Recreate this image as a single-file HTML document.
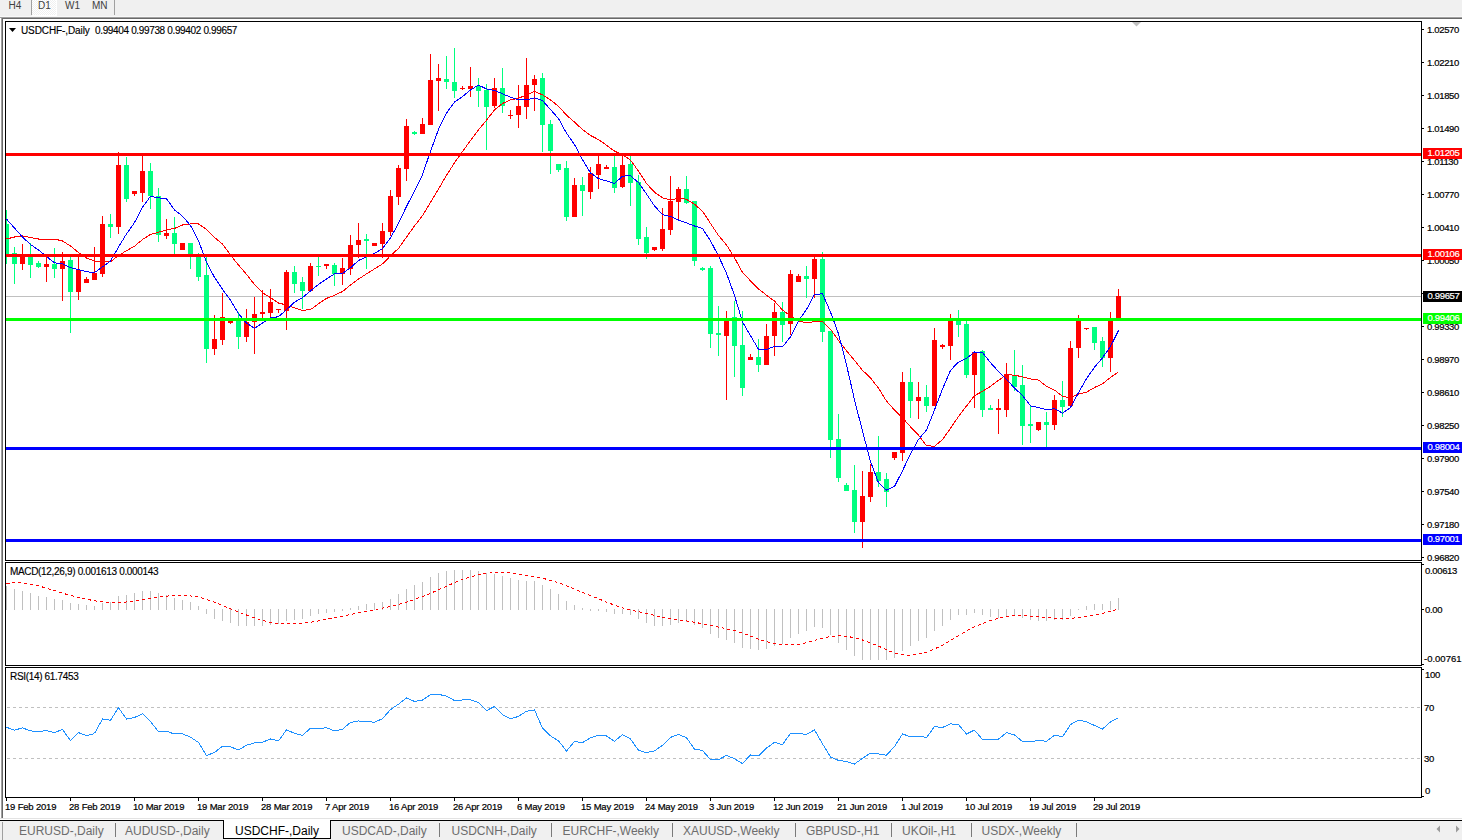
<!DOCTYPE html>
<html><head><meta charset="utf-8"><style>
html,body{margin:0;padding:0;}
body{width:1462px;height:840px;position:relative;overflow:hidden;background:#fff;font-family:"Liberation Sans",sans-serif;}
svg{position:absolute;left:0;top:0;}
.ax{position:absolute;font-size:9.5px;line-height:10px;color:#000;white-space:nowrap;letter-spacing:-0.34px;-webkit-text-stroke:0.2px #000;}
.dt{position:absolute;font-size:9.5px;line-height:10px;color:#000;white-space:nowrap;letter-spacing:-0.19px;-webkit-text-stroke:0.2px #000;}
.box{position:absolute;left:1423px;width:40px;height:11px;font-size:9.5px;line-height:9px;padding-left:4.5px;box-sizing:border-box;white-space:nowrap;letter-spacing:-0.34px;-webkit-text-stroke:0.2px currentColor;}
#tb{position:absolute;left:0;top:0;width:1462px;height:17px;background:#F0F0F0;}
#tb .t{position:absolute;top:0.5px;font-size:10px;line-height:10px;color:#404040;white-space:nowrap;}
#tb .sep{position:absolute;top:0;width:1px;height:15px;background:#A0A0A0;}
#d1{position:absolute;left:32px;top:0;width:25px;height:16px;background:#fff;}
#d1b{position:absolute;left:32px;top:0;width:24px;height:15px;background-color:#F0F0F0;background-image:repeating-conic-gradient(#fff 0 25%, #F0F0F0 0 50%);background-size:2px 2px;}
#tl1{position:absolute;left:0;top:17px;width:1462px;height:1px;background:#A0A0A0;}
#tl2{position:absolute;left:2px;top:18px;width:1462px;height:1px;background:#696969;}
#tl0{position:absolute;left:0;top:16px;width:1462px;height:1px;background:#F8F8F8;}
#lb{position:absolute;left:1px;top:18px;width:1px;height:800px;background:#A0A0A0;}
#lbb{position:absolute;left:2px;top:18px;width:1px;height:800px;background:#696969;}
#lb2{position:absolute;left:2px;top:822px;width:1px;height:18px;background:#A0A0A0;}
#bl{position:absolute;left:0;top:818px;width:1462px;height:1px;background:#E3E3E3;}
#tabs{position:absolute;left:0;top:820px;width:1462px;height:20px;background:#F0F0F0;border-top:1px solid #000;box-sizing:border-box;}
#tabs2{position:absolute;left:0;top:821px;width:1462px;height:1px;background:#fff;}
.tab{position:absolute;top:3px;font-size:12px;line-height:14px;color:#6D6D6D;white-space:nowrap;}
.tsep{position:absolute;top:2px;width:1px;height:14px;background:#7a7a7a;}
#act{position:absolute;left:223px;top:-1px;width:108px;height:19px;background:#fff;border:1px solid #000;border-top:none;box-sizing:border-box;}
.title{position:absolute;font-size:10px;line-height:10px;color:#000;white-space:nowrap;letter-spacing:-0.33px;-webkit-text-stroke:0.15px #000;}
.arr{position:absolute;top:826px;width:0;height:0;border-top:4px solid transparent;border-bottom:4px solid transparent;}
</style></head><body>
<div id="tb">
<div id="d1"></div><div id="d1b"></div>
<div class="sep" style="left:31px"></div>
<div class="sep" style="left:114px"></div>
<div class="t" style="left:8.5px">H4</div>
<div class="t" style="left:38px">D1</div>
<div class="t" style="left:65px">W1</div>
<div class="t" style="left:92px">MN</div>
</div>
<div id="tl0"></div><div id="tl1"></div><div id="tl2"></div>
<div id="lb"></div><div id="lbb"></div>
<svg x="0" y="0" width="1462" height="840"><clipPath id="mc"><rect x="6" y="22" width="1415" height="538"/></clipPath><g clip-path="url(#mc)" shape-rendering="crispEdges"><rect x="5" y="296" width="1416" height="1" fill="#C0C0C0"/><rect x="6" y="210" width="1" height="54" fill="#00FF7F"/><rect x="4" y="224" width="5" height="31" fill="#00FF7F"/><rect x="14" y="247" width="1" height="37" fill="#00FF7F"/><rect x="12" y="253" width="5" height="11" fill="#00FF7F"/><rect x="22" y="244" width="1" height="26" fill="#FF0000"/><rect x="20" y="256" width="5" height="8" fill="#FF0000"/><rect x="30" y="243" width="1" height="35" fill="#00FF7F"/><rect x="28" y="257" width="5" height="8" fill="#00FF7F"/><rect x="38" y="261" width="1" height="7" fill="#00FF7F"/><rect x="36" y="263" width="5" height="4" fill="#00FF7F"/><rect x="46" y="256" width="1" height="26" fill="#FF0000"/><rect x="44" y="264" width="5" height="3" fill="#FF0000"/><rect x="54" y="248" width="1" height="30" fill="#00FF7F"/><rect x="52" y="264" width="5" height="5" fill="#00FF7F"/><rect x="62" y="252" width="1" height="49" fill="#FF0000"/><rect x="60" y="261" width="5" height="8" fill="#FF0000"/><rect x="70" y="257" width="1" height="76" fill="#00FF7F"/><rect x="68" y="260" width="5" height="32" fill="#00FF7F"/><rect x="78" y="254" width="1" height="46" fill="#FF0000"/><rect x="76" y="270" width="5" height="22" fill="#FF0000"/><rect x="86" y="277" width="1" height="6" fill="#FF0000"/><rect x="84" y="279" width="5" height="4" fill="#FF0000"/><rect x="94" y="247" width="1" height="33" fill="#FF0000"/><rect x="92" y="273" width="5" height="7" fill="#FF0000"/><rect x="102" y="216" width="1" height="61" fill="#FF0000"/><rect x="100" y="224" width="5" height="50" fill="#FF0000"/><rect x="110" y="214" width="1" height="24" fill="#00FF7F"/><rect x="108" y="224" width="5" height="3" fill="#00FF7F"/><rect x="118" y="152" width="1" height="82" fill="#FF0000"/><rect x="116" y="165" width="5" height="62" fill="#FF0000"/><rect x="126" y="157" width="1" height="45" fill="#00FF7F"/><rect x="124" y="165" width="5" height="34" fill="#00FF7F"/><rect x="134" y="191" width="1" height="5" fill="#FF0000"/><rect x="132" y="191" width="5" height="3" fill="#FF0000"/><rect x="142" y="156" width="1" height="46" fill="#FF0000"/><rect x="140" y="171" width="5" height="22" fill="#FF0000"/><rect x="150" y="163" width="1" height="46" fill="#00FF7F"/><rect x="148" y="171" width="5" height="25" fill="#00FF7F"/><rect x="158" y="188" width="1" height="54" fill="#00FF7F"/><rect x="156" y="196" width="5" height="39" fill="#00FF7F"/><rect x="166" y="219" width="1" height="20" fill="#FF0000"/><rect x="164" y="233" width="5" height="3" fill="#FF0000"/><rect x="174" y="217" width="1" height="37" fill="#00FF7F"/><rect x="172" y="233" width="5" height="11" fill="#00FF7F"/><rect x="182" y="243" width="1" height="7" fill="#FF0000"/><rect x="180" y="243" width="5" height="7" fill="#FF0000"/><rect x="190" y="243" width="1" height="26" fill="#00FF7F"/><rect x="188" y="243" width="5" height="13" fill="#00FF7F"/><rect x="198" y="253" width="1" height="28" fill="#00FF7F"/><rect x="196" y="257" width="5" height="20" fill="#00FF7F"/><rect x="206" y="257" width="1" height="106" fill="#00FF7F"/><rect x="204" y="275" width="5" height="74" fill="#00FF7F"/><rect x="214" y="315" width="1" height="40" fill="#FF0000"/><rect x="212" y="339" width="5" height="10" fill="#FF0000"/><rect x="222" y="293" width="1" height="52" fill="#FF0000"/><rect x="220" y="317" width="5" height="23" fill="#FF0000"/><rect x="230" y="321" width="1" height="3" fill="#FF0000"/><rect x="228" y="321" width="5" height="2" fill="#FF0000"/><rect x="238" y="312" width="1" height="37" fill="#00FF7F"/><rect x="236" y="319" width="5" height="18" fill="#00FF7F"/><rect x="246" y="309" width="1" height="33" fill="#FF0000"/><rect x="244" y="322" width="5" height="15" fill="#FF0000"/><rect x="254" y="297" width="1" height="57" fill="#FF0000"/><rect x="252" y="314" width="5" height="8" fill="#FF0000"/><rect x="262" y="290" width="1" height="28" fill="#FF0000"/><rect x="260" y="312" width="5" height="2" fill="#FF0000"/><rect x="270" y="289" width="1" height="28" fill="#FF0000"/><rect x="268" y="302" width="5" height="11" fill="#FF0000"/><rect x="278" y="309" width="1" height="4" fill="#FF0000"/><rect x="276" y="309" width="5" height="1" fill="#FF0000"/><rect x="286" y="270" width="1" height="60" fill="#FF0000"/><rect x="284" y="272" width="5" height="39" fill="#FF0000"/><rect x="294" y="266" width="1" height="27" fill="#00FF7F"/><rect x="292" y="272" width="5" height="12" fill="#00FF7F"/><rect x="302" y="277" width="1" height="32" fill="#00FF7F"/><rect x="300" y="282" width="5" height="9" fill="#00FF7F"/><rect x="310" y="263" width="1" height="28" fill="#FF0000"/><rect x="308" y="266" width="5" height="25" fill="#FF0000"/><rect x="318" y="257" width="1" height="19" fill="#00FF7F"/><rect x="316" y="266" width="5" height="1" fill="#00FF7F"/><rect x="326" y="264" width="1" height="5" fill="#FF0000"/><rect x="324" y="264" width="5" height="2" fill="#FF0000"/><rect x="334" y="263" width="1" height="23" fill="#00FF7F"/><rect x="332" y="265" width="5" height="9" fill="#00FF7F"/><rect x="342" y="258" width="1" height="27" fill="#FF0000"/><rect x="340" y="268" width="5" height="6" fill="#FF0000"/><rect x="350" y="235" width="1" height="40" fill="#FF0000"/><rect x="348" y="245" width="5" height="24" fill="#FF0000"/><rect x="358" y="223" width="1" height="35" fill="#FF0000"/><rect x="356" y="240" width="5" height="5" fill="#FF0000"/><rect x="366" y="234" width="1" height="35" fill="#00FF7F"/><rect x="364" y="239" width="5" height="2" fill="#00FF7F"/><rect x="374" y="243" width="1" height="3" fill="#FF0000"/><rect x="372" y="243" width="5" height="3" fill="#FF0000"/><rect x="382" y="223" width="1" height="35" fill="#FF0000"/><rect x="380" y="231" width="5" height="13" fill="#FF0000"/><rect x="390" y="190" width="1" height="46" fill="#FF0000"/><rect x="388" y="196" width="5" height="36" fill="#FF0000"/><rect x="398" y="165" width="1" height="40" fill="#FF0000"/><rect x="396" y="168" width="5" height="29" fill="#FF0000"/><rect x="406" y="119" width="1" height="62" fill="#FF0000"/><rect x="404" y="126" width="5" height="43" fill="#FF0000"/><rect x="414" y="131" width="1" height="4" fill="#00FF7F"/><rect x="412" y="132" width="5" height="2" fill="#00FF7F"/><rect x="422" y="118" width="1" height="16" fill="#FF0000"/><rect x="420" y="124" width="5" height="10" fill="#FF0000"/><rect x="430" y="54" width="1" height="71" fill="#FF0000"/><rect x="428" y="80" width="5" height="45" fill="#FF0000"/><rect x="438" y="64" width="1" height="47" fill="#FF0000"/><rect x="436" y="78" width="5" height="3" fill="#FF0000"/><rect x="446" y="56" width="1" height="33" fill="#00FF7F"/><rect x="444" y="79" width="5" height="3" fill="#00FF7F"/><rect x="454" y="48" width="1" height="50" fill="#00FF7F"/><rect x="452" y="82" width="5" height="9" fill="#00FF7F"/><rect x="462" y="86" width="1" height="4" fill="#FF0000"/><rect x="460" y="88" width="5" height="1" fill="#FF0000"/><rect x="470" y="67" width="1" height="30" fill="#FF0000"/><rect x="468" y="86" width="5" height="3" fill="#FF0000"/><rect x="478" y="78" width="1" height="29" fill="#00FF7F"/><rect x="476" y="86" width="5" height="5" fill="#00FF7F"/><rect x="486" y="84" width="1" height="66" fill="#00FF7F"/><rect x="484" y="90" width="5" height="17" fill="#00FF7F"/><rect x="494" y="78" width="1" height="30" fill="#FF0000"/><rect x="492" y="88" width="5" height="18" fill="#FF0000"/><rect x="502" y="68" width="1" height="45" fill="#00FF7F"/><rect x="500" y="88" width="5" height="18" fill="#00FF7F"/><rect x="510" y="110" width="1" height="9" fill="#FF0000"/><rect x="508" y="115" width="5" height="1" fill="#FF0000"/><rect x="518" y="85" width="1" height="43" fill="#FF0000"/><rect x="516" y="106" width="5" height="9" fill="#FF0000"/><rect x="526" y="58" width="1" height="61" fill="#FF0000"/><rect x="524" y="85" width="5" height="22" fill="#FF0000"/><rect x="534" y="75" width="1" height="36" fill="#FF0000"/><rect x="532" y="79" width="5" height="6" fill="#FF0000"/><rect x="542" y="73" width="1" height="79" fill="#00FF7F"/><rect x="540" y="78" width="5" height="47" fill="#00FF7F"/><rect x="550" y="120" width="1" height="54" fill="#00FF7F"/><rect x="548" y="124" width="5" height="27" fill="#00FF7F"/><rect x="558" y="164" width="1" height="8" fill="#00FF7F"/><rect x="556" y="164" width="5" height="6" fill="#00FF7F"/><rect x="566" y="161" width="1" height="60" fill="#00FF7F"/><rect x="564" y="168" width="5" height="49" fill="#00FF7F"/><rect x="574" y="178" width="1" height="39" fill="#FF0000"/><rect x="572" y="185" width="5" height="32" fill="#FF0000"/><rect x="582" y="177" width="1" height="39" fill="#00FF7F"/><rect x="580" y="185" width="5" height="6" fill="#00FF7F"/><rect x="590" y="167" width="1" height="32" fill="#FF0000"/><rect x="588" y="173" width="5" height="19" fill="#FF0000"/><rect x="598" y="156" width="1" height="33" fill="#FF0000"/><rect x="596" y="164" width="5" height="11" fill="#FF0000"/><rect x="606" y="165" width="1" height="4" fill="#FF0000"/><rect x="604" y="167" width="5" height="2" fill="#FF0000"/><rect x="614" y="156" width="1" height="37" fill="#00FF7F"/><rect x="612" y="167" width="5" height="21" fill="#00FF7F"/><rect x="622" y="154" width="1" height="34" fill="#FF0000"/><rect x="620" y="165" width="5" height="22" fill="#FF0000"/><rect x="630" y="156" width="1" height="50" fill="#00FF7F"/><rect x="628" y="164" width="5" height="19" fill="#00FF7F"/><rect x="638" y="175" width="1" height="70" fill="#00FF7F"/><rect x="636" y="182" width="5" height="57" fill="#00FF7F"/><rect x="646" y="227" width="1" height="32" fill="#00FF7F"/><rect x="644" y="237" width="5" height="16" fill="#00FF7F"/><rect x="654" y="247" width="1" height="4" fill="#FF0000"/><rect x="652" y="247" width="5" height="3" fill="#FF0000"/><rect x="662" y="208" width="1" height="43" fill="#FF0000"/><rect x="660" y="229" width="5" height="20" fill="#FF0000"/><rect x="670" y="176" width="1" height="59" fill="#FF0000"/><rect x="668" y="201" width="5" height="29" fill="#FF0000"/><rect x="678" y="187" width="1" height="33" fill="#FF0000"/><rect x="676" y="189" width="5" height="13" fill="#FF0000"/><rect x="686" y="176" width="1" height="28" fill="#00FF7F"/><rect x="684" y="189" width="5" height="14" fill="#00FF7F"/><rect x="694" y="201" width="1" height="65" fill="#00FF7F"/><rect x="692" y="201" width="5" height="60" fill="#00FF7F"/><rect x="702" y="267" width="1" height="4" fill="#00FF7F"/><rect x="700" y="268" width="5" height="2" fill="#00FF7F"/><rect x="710" y="266" width="1" height="82" fill="#00FF7F"/><rect x="708" y="268" width="5" height="66" fill="#00FF7F"/><rect x="718" y="306" width="1" height="50" fill="#00FF7F"/><rect x="716" y="333" width="5" height="2" fill="#00FF7F"/><rect x="726" y="311" width="1" height="89" fill="#FF0000"/><rect x="724" y="321" width="5" height="15" fill="#FF0000"/><rect x="734" y="301" width="1" height="76" fill="#00FF7F"/><rect x="732" y="317" width="5" height="29" fill="#00FF7F"/><rect x="742" y="311" width="1" height="85" fill="#00FF7F"/><rect x="740" y="345" width="5" height="43" fill="#00FF7F"/><rect x="750" y="354" width="1" height="6" fill="#FF0000"/><rect x="748" y="357" width="5" height="3" fill="#FF0000"/><rect x="758" y="339" width="1" height="33" fill="#00FF7F"/><rect x="756" y="357" width="5" height="8" fill="#00FF7F"/><rect x="766" y="324" width="1" height="41" fill="#FF0000"/><rect x="764" y="336" width="5" height="29" fill="#FF0000"/><rect x="774" y="303" width="1" height="53" fill="#FF0000"/><rect x="772" y="312" width="5" height="24" fill="#FF0000"/><rect x="782" y="302" width="1" height="40" fill="#00FF7F"/><rect x="780" y="312" width="5" height="13" fill="#00FF7F"/><rect x="790" y="270" width="1" height="65" fill="#FF0000"/><rect x="788" y="274" width="5" height="50" fill="#FF0000"/><rect x="798" y="274" width="1" height="8" fill="#FF0000"/><rect x="796" y="276" width="5" height="6" fill="#FF0000"/><rect x="806" y="266" width="1" height="32" fill="#00FF7F"/><rect x="804" y="276" width="5" height="3" fill="#00FF7F"/><rect x="814" y="256" width="1" height="42" fill="#FF0000"/><rect x="812" y="259" width="5" height="20" fill="#FF0000"/><rect x="822" y="252" width="1" height="90" fill="#00FF7F"/><rect x="820" y="259" width="5" height="73" fill="#00FF7F"/><rect x="830" y="331" width="1" height="127" fill="#00FF7F"/><rect x="828" y="331" width="5" height="109" fill="#00FF7F"/><rect x="838" y="414" width="1" height="68" fill="#00FF7F"/><rect x="836" y="439" width="5" height="39" fill="#00FF7F"/><rect x="846" y="483" width="1" height="8" fill="#00FF7F"/><rect x="844" y="485" width="5" height="6" fill="#00FF7F"/><rect x="854" y="465" width="1" height="68" fill="#00FF7F"/><rect x="852" y="490" width="5" height="32" fill="#00FF7F"/><rect x="862" y="471" width="1" height="77" fill="#FF0000"/><rect x="860" y="496" width="5" height="26" fill="#FF0000"/><rect x="870" y="464" width="1" height="38" fill="#FF0000"/><rect x="868" y="472" width="5" height="25" fill="#FF0000"/><rect x="878" y="436" width="1" height="51" fill="#00FF7F"/><rect x="876" y="472" width="5" height="9" fill="#00FF7F"/><rect x="886" y="473" width="1" height="34" fill="#00FF7F"/><rect x="884" y="479" width="5" height="13" fill="#00FF7F"/><rect x="894" y="452" width="1" height="8" fill="#FF0000"/><rect x="892" y="452" width="5" height="6" fill="#FF0000"/><rect x="902" y="372" width="1" height="89" fill="#FF0000"/><rect x="900" y="382" width="5" height="71" fill="#FF0000"/><rect x="910" y="368" width="1" height="50" fill="#00FF7F"/><rect x="908" y="382" width="5" height="19" fill="#00FF7F"/><rect x="918" y="382" width="1" height="37" fill="#FF0000"/><rect x="916" y="397" width="5" height="4" fill="#FF0000"/><rect x="926" y="385" width="1" height="27" fill="#00FF7F"/><rect x="924" y="397" width="5" height="9" fill="#00FF7F"/><rect x="934" y="328" width="1" height="78" fill="#FF0000"/><rect x="932" y="340" width="5" height="66" fill="#FF0000"/><rect x="942" y="344" width="1" height="5" fill="#FF0000"/><rect x="940" y="345" width="5" height="2" fill="#FF0000"/><rect x="950" y="314" width="1" height="46" fill="#FF0000"/><rect x="948" y="321" width="5" height="25" fill="#FF0000"/><rect x="958" y="310" width="1" height="27" fill="#00FF7F"/><rect x="956" y="321" width="5" height="4" fill="#00FF7F"/><rect x="966" y="321" width="1" height="57" fill="#00FF7F"/><rect x="964" y="324" width="5" height="51" fill="#00FF7F"/><rect x="974" y="351" width="1" height="57" fill="#FF0000"/><rect x="972" y="352" width="5" height="23" fill="#FF0000"/><rect x="982" y="350" width="1" height="67" fill="#00FF7F"/><rect x="980" y="351" width="5" height="59" fill="#00FF7F"/><rect x="990" y="405" width="1" height="5" fill="#00FF7F"/><rect x="988" y="408" width="5" height="2" fill="#00FF7F"/><rect x="998" y="399" width="1" height="35" fill="#FF0000"/><rect x="996" y="408" width="5" height="2" fill="#FF0000"/><rect x="1006" y="363" width="1" height="54" fill="#FF0000"/><rect x="1004" y="374" width="5" height="36" fill="#FF0000"/><rect x="1014" y="350" width="1" height="41" fill="#00FF7F"/><rect x="1012" y="375" width="5" height="12" fill="#00FF7F"/><rect x="1022" y="365" width="1" height="80" fill="#00FF7F"/><rect x="1020" y="385" width="5" height="41" fill="#00FF7F"/><rect x="1030" y="405" width="1" height="38" fill="#00FF7F"/><rect x="1028" y="424" width="5" height="2" fill="#00FF7F"/><rect x="1038" y="422" width="1" height="9" fill="#FF0000"/><rect x="1036" y="422" width="5" height="8" fill="#FF0000"/><rect x="1046" y="412" width="1" height="35" fill="#00FF7F"/><rect x="1044" y="422" width="5" height="3" fill="#00FF7F"/><rect x="1054" y="395" width="1" height="35" fill="#FF0000"/><rect x="1052" y="400" width="5" height="25" fill="#FF0000"/><rect x="1062" y="381" width="1" height="36" fill="#00FF7F"/><rect x="1060" y="400" width="5" height="7" fill="#00FF7F"/><rect x="1070" y="341" width="1" height="67" fill="#FF0000"/><rect x="1068" y="348" width="5" height="58" fill="#FF0000"/><rect x="1078" y="315" width="1" height="43" fill="#FF0000"/><rect x="1076" y="321" width="5" height="27" fill="#FF0000"/><rect x="1086" y="328" width="1" height="2" fill="#FF0000"/><rect x="1084" y="328" width="5" height="1" fill="#FF0000"/><rect x="1094" y="327" width="1" height="23" fill="#00FF7F"/><rect x="1092" y="327" width="5" height="16" fill="#00FF7F"/><rect x="1102" y="337" width="1" height="30" fill="#00FF7F"/><rect x="1100" y="341" width="5" height="17" fill="#00FF7F"/><rect x="1110" y="312" width="1" height="60" fill="#FF0000"/><rect x="1108" y="320" width="5" height="38" fill="#FF0000"/><rect x="1118" y="289" width="1" height="29" fill="#FF0000"/><rect x="1116" y="296" width="5" height="22" fill="#FF0000"/><polyline points="6.5,239.0 14.5,237.0 22.5,236.0 30.5,237.5 38.5,239.0 46.5,239.0 54.5,239.0 62.5,241.0 70.5,246.0 78.5,252.5 86.5,258.0 94.5,261.0 102.5,261.0 110.5,261.9 118.5,255.4 126.5,250.8 134.5,246.2 142.5,239.5 150.5,234.4 158.5,232.3 166.5,229.8 174.5,228.5 182.5,225.0 190.5,224.0 198.5,223.9 206.5,229.3 214.5,237.5 222.5,244.0 230.5,255.1 238.5,265.0 246.5,274.3 254.5,284.5 262.5,292.8 270.5,297.6 278.5,303.0 286.5,305.0 294.5,307.9 302.5,310.4 310.5,309.6 318.5,303.8 326.5,298.4 334.5,295.3 342.5,291.5 350.5,285.0 358.5,279.1 366.5,273.9 374.5,268.9 382.5,263.9 390.5,255.8 398.5,248.4 406.5,237.1 414.5,225.9 422.5,215.7 430.5,202.4 438.5,189.1 446.5,175.4 454.5,162.8 462.5,151.5 470.5,140.5 478.5,129.9 486.5,120.1 494.5,109.9 502.5,103.5 510.5,99.7 518.5,98.3 526.5,94.8 534.5,91.5 542.5,94.8 550.5,100.0 558.5,106.2 566.5,115.2 574.5,122.1 582.5,129.6 590.5,135.5 598.5,139.6 606.5,145.2 614.5,151.1 622.5,154.7 630.5,160.1 638.5,171.1 646.5,183.5 654.5,192.2 662.5,197.8 670.5,200.1 678.5,198.1 686.5,199.3 694.5,204.3 702.5,211.2 710.5,223.4 718.5,235.4 726.5,244.9 734.5,257.8 742.5,272.4 750.5,280.9 758.5,288.9 766.5,295.2 774.5,301.1 782.5,310.0 790.5,316.1 798.5,321.3 806.5,322.6 814.5,321.8 822.5,321.7 830.5,329.2 838.5,340.4 846.5,350.8 854.5,360.3 862.5,370.3 870.5,377.9 878.5,388.2 886.5,401.1 894.5,410.1 902.5,417.8 910.5,426.8 918.5,435.2 926.5,445.7 934.5,446.3 942.5,439.5 950.5,428.3 958.5,416.5 966.5,406.0 974.5,395.7 982.5,391.3 990.5,386.3 998.5,380.3 1006.5,374.8 1014.5,375.1 1022.5,376.9 1030.5,379.0 1038.5,380.1 1046.5,386.2 1054.5,390.1 1062.5,396.2 1070.5,397.9 1078.5,394.0 1086.5,392.3 1094.5,387.5 1102.5,383.8 1110.5,377.5 1118.5,371.9" fill="none" stroke="#FF0000" stroke-width="1"/><polyline points="6.5,219.0 14.5,228.0 22.5,237.0 30.5,244.5 38.5,250.0 46.5,256.5 54.5,262.9 62.5,263.7 70.5,267.7 78.5,269.7 86.5,271.7 94.5,272.6 102.5,266.9 110.5,260.9 118.5,247.1 126.5,233.9 134.5,222.6 142.5,207.2 150.5,196.3 158.5,197.8 166.5,198.7 174.5,209.9 182.5,216.2 190.5,225.5 198.5,240.6 206.5,262.4 214.5,277.3 222.5,289.3 230.5,300.3 238.5,313.7 246.5,323.1 254.5,328.4 262.5,323.1 270.5,317.9 278.5,316.7 286.5,309.7 294.5,302.1 302.5,297.7 310.5,290.9 318.5,284.4 326.5,279.0 334.5,273.9 342.5,273.4 350.5,267.8 358.5,260.5 366.5,256.9 374.5,253.4 382.5,248.7 390.5,237.7 398.5,223.4 406.5,206.4 414.5,191.2 422.5,174.6 430.5,151.3 438.5,129.4 446.5,113.1 454.5,102.1 462.5,96.7 470.5,89.9 478.5,85.1 486.5,89.0 494.5,90.4 502.5,93.8 510.5,97.2 518.5,99.8 526.5,99.7 534.5,97.9 542.5,100.5 550.5,109.5 558.5,118.6 566.5,133.2 574.5,144.5 582.5,159.6 590.5,173.0 598.5,178.6 606.5,180.9 614.5,183.6 622.5,176.1 630.5,175.8 638.5,182.6 646.5,194.0 654.5,205.9 662.5,214.7 670.5,216.5 678.5,220.0 686.5,222.9 694.5,226.0 702.5,228.5 710.5,240.8 718.5,256.0 726.5,273.2 734.5,295.5 742.5,321.9 750.5,335.7 758.5,349.3 766.5,349.6 774.5,346.3 782.5,346.9 790.5,336.7 798.5,320.7 806.5,309.5 814.5,294.4 822.5,293.8 830.5,312.0 838.5,333.8 846.5,364.8 854.5,399.9 862.5,431.0 870.5,461.4 878.5,482.7 886.5,490.1 894.5,486.4 902.5,470.8 910.5,453.6 918.5,439.5 926.5,430.0 934.5,409.9 942.5,389.0 950.5,370.3 958.5,362.1 966.5,358.4 974.5,352.0 982.5,352.6 990.5,362.6 998.5,371.6 1006.5,379.3 1014.5,388.1 1022.5,395.4 1030.5,405.9 1038.5,407.6 1046.5,409.7 1054.5,408.6 1062.5,413.2 1070.5,407.6 1078.5,392.6 1086.5,378.6 1094.5,367.3 1102.5,357.8 1110.5,346.4 1118.5,330.5" fill="none" stroke="#0000FF" stroke-width="1"/><rect x="5" y="153" width="1416" height="3" fill="#FF0000"/><rect x="5" y="254" width="1416" height="3" fill="#FF0000"/><rect x="5" y="318" width="1416" height="3" fill="#00FF00"/><rect x="5" y="447" width="1416" height="3" fill="#0000FF"/><rect x="5" y="539" width="1416" height="3" fill="#0000FF"/></g></svg><svg x="0" y="0" width="1462" height="840"><clipPath id="dc"><rect x="6" y="563" width="1415" height="102"/></clipPath><g clip-path="url(#dc)" shape-rendering="crispEdges"><rect x="6" y="586" width="1" height="24" fill="#C0C0C0"/><rect x="14" y="589" width="1" height="21" fill="#C0C0C0"/><rect x="22" y="591" width="1" height="19" fill="#C0C0C0"/><rect x="30" y="593" width="1" height="17" fill="#C0C0C0"/><rect x="38" y="596" width="1" height="14" fill="#C0C0C0"/><rect x="46" y="597" width="1" height="13" fill="#C0C0C0"/><rect x="54" y="599" width="1" height="11" fill="#C0C0C0"/><rect x="62" y="600" width="1" height="10" fill="#C0C0C0"/><rect x="70" y="603" width="1" height="7" fill="#C0C0C0"/><rect x="78" y="604" width="1" height="6" fill="#C0C0C0"/><rect x="86" y="605" width="1" height="5" fill="#C0C0C0"/><rect x="94" y="606" width="1" height="4" fill="#C0C0C0"/><rect x="102" y="603" width="1" height="7" fill="#C0C0C0"/><rect x="110" y="602" width="1" height="8" fill="#C0C0C0"/><rect x="118" y="596" width="1" height="14" fill="#C0C0C0"/><rect x="126" y="595" width="1" height="15" fill="#C0C0C0"/><rect x="134" y="593" width="1" height="17" fill="#C0C0C0"/><rect x="142" y="591" width="1" height="19" fill="#C0C0C0"/><rect x="150" y="591" width="1" height="19" fill="#C0C0C0"/><rect x="158" y="593" width="1" height="17" fill="#C0C0C0"/><rect x="166" y="595" width="1" height="15" fill="#C0C0C0"/><rect x="174" y="598" width="1" height="12" fill="#C0C0C0"/><rect x="182" y="600" width="1" height="10" fill="#C0C0C0"/><rect x="190" y="602" width="1" height="8" fill="#C0C0C0"/><rect x="198" y="606" width="1" height="4" fill="#C0C0C0"/><rect x="206" y="609" width="1" height="5" fill="#C0C0C0"/><rect x="214" y="609" width="1" height="10" fill="#C0C0C0"/><rect x="222" y="609" width="1" height="12" fill="#C0C0C0"/><rect x="230" y="609" width="1" height="14" fill="#C0C0C0"/><rect x="238" y="609" width="1" height="17" fill="#C0C0C0"/><rect x="246" y="609" width="1" height="17" fill="#C0C0C0"/><rect x="254" y="609" width="1" height="17" fill="#C0C0C0"/><rect x="262" y="609" width="1" height="17" fill="#C0C0C0"/><rect x="270" y="609" width="1" height="16" fill="#C0C0C0"/><rect x="278" y="609" width="1" height="15" fill="#C0C0C0"/><rect x="286" y="609" width="1" height="12" fill="#C0C0C0"/><rect x="294" y="609" width="1" height="11" fill="#C0C0C0"/><rect x="302" y="609" width="1" height="10" fill="#C0C0C0"/><rect x="310" y="609" width="1" height="7" fill="#C0C0C0"/><rect x="318" y="609" width="1" height="5" fill="#C0C0C0"/><rect x="326" y="609" width="1" height="4" fill="#C0C0C0"/><rect x="334" y="609" width="1" height="3" fill="#C0C0C0"/><rect x="342" y="609" width="1" height="2" fill="#C0C0C0"/><rect x="350" y="608" width="1" height="2" fill="#C0C0C0"/><rect x="358" y="606" width="1" height="4" fill="#C0C0C0"/><rect x="366" y="604" width="1" height="6" fill="#C0C0C0"/><rect x="374" y="603" width="1" height="7" fill="#C0C0C0"/><rect x="382" y="602" width="1" height="8" fill="#C0C0C0"/><rect x="390" y="599" width="1" height="11" fill="#C0C0C0"/><rect x="398" y="594" width="1" height="16" fill="#C0C0C0"/><rect x="406" y="589" width="1" height="21" fill="#C0C0C0"/><rect x="414" y="585" width="1" height="25" fill="#C0C0C0"/><rect x="422" y="582" width="1" height="28" fill="#C0C0C0"/><rect x="430" y="577" width="1" height="33" fill="#C0C0C0"/><rect x="438" y="573" width="1" height="37" fill="#C0C0C0"/><rect x="446" y="571" width="1" height="39" fill="#C0C0C0"/><rect x="454" y="570" width="1" height="40" fill="#C0C0C0"/><rect x="462" y="570" width="1" height="40" fill="#C0C0C0"/><rect x="470" y="570" width="1" height="40" fill="#C0C0C0"/><rect x="478" y="571" width="1" height="39" fill="#C0C0C0"/><rect x="486" y="573" width="1" height="37" fill="#C0C0C0"/><rect x="494" y="574" width="1" height="36" fill="#C0C0C0"/><rect x="502" y="576" width="1" height="34" fill="#C0C0C0"/><rect x="510" y="578" width="1" height="32" fill="#C0C0C0"/><rect x="518" y="580" width="1" height="30" fill="#C0C0C0"/><rect x="526" y="581" width="1" height="29" fill="#C0C0C0"/><rect x="534" y="581" width="1" height="29" fill="#C0C0C0"/><rect x="542" y="585" width="1" height="25" fill="#C0C0C0"/><rect x="550" y="589" width="1" height="21" fill="#C0C0C0"/><rect x="558" y="594" width="1" height="16" fill="#C0C0C0"/><rect x="566" y="601" width="1" height="9" fill="#C0C0C0"/><rect x="574" y="605" width="1" height="5" fill="#C0C0C0"/><rect x="582" y="608" width="1" height="2" fill="#C0C0C0"/><rect x="590" y="609" width="1" height="2" fill="#C0C0C0"/><rect x="598" y="609" width="1" height="2" fill="#C0C0C0"/><rect x="606" y="609" width="1" height="3" fill="#C0C0C0"/><rect x="614" y="609" width="1" height="5" fill="#C0C0C0"/><rect x="622" y="609" width="1" height="5" fill="#C0C0C0"/><rect x="630" y="609" width="1" height="6" fill="#C0C0C0"/><rect x="638" y="609" width="1" height="10" fill="#C0C0C0"/><rect x="646" y="609" width="1" height="14" fill="#C0C0C0"/><rect x="654" y="609" width="1" height="17" fill="#C0C0C0"/><rect x="662" y="609" width="1" height="17" fill="#C0C0C0"/><rect x="670" y="609" width="1" height="16" fill="#C0C0C0"/><rect x="678" y="609" width="1" height="14" fill="#C0C0C0"/><rect x="686" y="609" width="1" height="13" fill="#C0C0C0"/><rect x="694" y="609" width="1" height="16" fill="#C0C0C0"/><rect x="702" y="609" width="1" height="19" fill="#C0C0C0"/><rect x="710" y="609" width="1" height="25" fill="#C0C0C0"/><rect x="718" y="609" width="1" height="29" fill="#C0C0C0"/><rect x="726" y="609" width="1" height="31" fill="#C0C0C0"/><rect x="734" y="609" width="1" height="34" fill="#C0C0C0"/><rect x="742" y="609" width="1" height="39" fill="#C0C0C0"/><rect x="750" y="609" width="1" height="40" fill="#C0C0C0"/><rect x="758" y="609" width="1" height="41" fill="#C0C0C0"/><rect x="766" y="609" width="1" height="40" fill="#C0C0C0"/><rect x="774" y="609" width="1" height="37" fill="#C0C0C0"/><rect x="782" y="609" width="1" height="35" fill="#C0C0C0"/><rect x="790" y="609" width="1" height="29" fill="#C0C0C0"/><rect x="798" y="609" width="1" height="25" fill="#C0C0C0"/><rect x="806" y="609" width="1" height="22" fill="#C0C0C0"/><rect x="814" y="609" width="1" height="18" fill="#C0C0C0"/><rect x="822" y="609" width="1" height="19" fill="#C0C0C0"/><rect x="830" y="609" width="1" height="26" fill="#C0C0C0"/><rect x="838" y="609" width="1" height="34" fill="#C0C0C0"/><rect x="846" y="609" width="1" height="41" fill="#C0C0C0"/><rect x="854" y="609" width="1" height="47" fill="#C0C0C0"/><rect x="862" y="609" width="1" height="51" fill="#C0C0C0"/><rect x="870" y="609" width="1" height="51" fill="#C0C0C0"/><rect x="878" y="609" width="1" height="51" fill="#C0C0C0"/><rect x="886" y="609" width="1" height="51" fill="#C0C0C0"/><rect x="894" y="609" width="1" height="49" fill="#C0C0C0"/><rect x="902" y="609" width="1" height="42" fill="#C0C0C0"/><rect x="910" y="609" width="1" height="37" fill="#C0C0C0"/><rect x="918" y="609" width="1" height="32" fill="#C0C0C0"/><rect x="926" y="609" width="1" height="29" fill="#C0C0C0"/><rect x="934" y="609" width="1" height="22" fill="#C0C0C0"/><rect x="942" y="609" width="1" height="17" fill="#C0C0C0"/><rect x="950" y="609" width="1" height="11" fill="#C0C0C0"/><rect x="958" y="609" width="1" height="6" fill="#C0C0C0"/><rect x="966" y="609" width="1" height="6" fill="#C0C0C0"/><rect x="974" y="609" width="1" height="4" fill="#C0C0C0"/><rect x="982" y="609" width="1" height="6" fill="#C0C0C0"/><rect x="990" y="609" width="1" height="8" fill="#C0C0C0"/><rect x="998" y="609" width="1" height="9" fill="#C0C0C0"/><rect x="1006" y="609" width="1" height="7" fill="#C0C0C0"/><rect x="1014" y="609" width="1" height="7" fill="#C0C0C0"/><rect x="1022" y="609" width="1" height="9" fill="#C0C0C0"/><rect x="1030" y="609" width="1" height="11" fill="#C0C0C0"/><rect x="1038" y="609" width="1" height="12" fill="#C0C0C0"/><rect x="1046" y="609" width="1" height="12" fill="#C0C0C0"/><rect x="1054" y="609" width="1" height="11" fill="#C0C0C0"/><rect x="1062" y="609" width="1" height="11" fill="#C0C0C0"/><rect x="1070" y="609" width="1" height="7" fill="#C0C0C0"/><rect x="1078" y="609" width="1" height="1" fill="#C0C0C0"/><rect x="1086" y="606" width="1" height="4" fill="#C0C0C0"/><rect x="1094" y="604" width="1" height="6" fill="#C0C0C0"/><rect x="1102" y="604" width="1" height="6" fill="#C0C0C0"/><rect x="1110" y="601" width="1" height="9" fill="#C0C0C0"/><rect x="1118" y="598" width="1" height="12" fill="#C0C0C0"/><polyline points="6.5,583.6 14.5,582.7 22.5,582.9 30.5,584.1 38.5,585.9 46.5,588.1 54.5,590.6 62.5,593.1 70.5,595.5 78.5,597.4 86.5,599.2 94.5,600.8 102.5,601.9 110.5,602.6 118.5,602.5 126.5,602.0 134.5,601.3 142.5,600.0 150.5,598.5 158.5,597.2 166.5,596.1 174.5,595.5 182.5,595.2 190.5,595.9 198.5,597.1 206.5,599.3 214.5,602.3 222.5,605.5 230.5,608.7 238.5,612.0 246.5,615.0 254.5,617.9 262.5,620.4 270.5,622.4 278.5,623.6 286.5,623.9 294.5,623.7 302.5,623.2 310.5,622.2 318.5,620.9 326.5,619.4 334.5,617.8 342.5,616.3 350.5,614.5 358.5,612.9 366.5,611.3 374.5,609.7 382.5,608.2 390.5,606.5 398.5,604.6 406.5,602.1 414.5,599.4 422.5,596.5 430.5,593.3 438.5,589.8 446.5,586.2 454.5,582.7 462.5,579.5 470.5,576.8 478.5,574.8 486.5,573.4 494.5,572.5 502.5,572.4 510.5,573.0 518.5,574.1 526.5,575.3 534.5,576.6 542.5,578.2 550.5,580.3 558.5,582.7 566.5,585.7 574.5,589.0 582.5,592.3 590.5,595.5 598.5,598.8 606.5,602.1 614.5,605.2 622.5,607.8 630.5,609.9 638.5,611.7 646.5,613.6 654.5,615.4 662.5,617.2 670.5,618.7 678.5,620.0 686.5,621.0 694.5,622.3 702.5,623.7 710.5,625.4 718.5,627.1 726.5,628.8 734.5,630.6 742.5,633.2 750.5,636.1 758.5,639.1 766.5,641.7 774.5,643.7 782.5,644.8 790.5,644.9 798.5,644.2 806.5,642.8 814.5,640.4 822.5,638.1 830.5,636.4 838.5,635.8 846.5,636.3 854.5,637.7 862.5,640.0 870.5,642.9 878.5,646.1 886.5,649.9 894.5,653.2 902.5,654.9 910.5,655.2 918.5,654.2 926.5,652.2 934.5,649.0 942.5,645.2 950.5,640.7 958.5,635.7 966.5,630.9 974.5,626.8 982.5,623.4 990.5,620.6 998.5,618.4 1006.5,616.8 1014.5,615.7 1022.5,615.6 1030.5,616.1 1038.5,616.7 1046.5,617.6 1054.5,618.2 1062.5,618.6 1070.5,618.3 1078.5,617.6 1086.5,616.6 1094.5,615.2 1102.5,613.5 1110.5,611.4 1118.5,608.9" fill="none" stroke="#FF0000" stroke-width="1" stroke-dasharray="3,3"/></g></svg><svg x="0" y="0" width="1462" height="840"><clipPath id="rc"><rect x="6" y="668" width="1415" height="129"/></clipPath><g clip-path="url(#rc)" shape-rendering="crispEdges"><line x1="7" y1="707.5" x2="1421" y2="707.5" stroke="#C0C0C0" stroke-width="1" stroke-dasharray="3,3"/><line x1="7" y1="758.5" x2="1421" y2="758.5" stroke="#C0C0C0" stroke-width="1" stroke-dasharray="3,3"/><polyline points="6.5,727.3 14.5,730.2 22.5,727.8 30.5,730.9 38.5,731.6 46.5,730.6 54.5,732.5 62.5,729.5 70.5,740.7 78.5,732.6 86.5,735.7 94.5,733.5 102.5,719.0 110.5,720.2 118.5,707.7 126.5,719.0 134.5,717.5 142.5,713.7 150.5,721.6 158.5,731.7 166.5,731.3 174.5,734.0 182.5,733.8 190.5,737.2 198.5,742.4 206.5,755.5 214.5,752.5 222.5,746.1 230.5,746.9 238.5,749.8 246.5,745.3 254.5,742.8 262.5,742.2 270.5,739.0 278.5,740.9 286.5,729.9 294.5,733.3 302.5,735.3 310.5,728.3 318.5,728.6 326.5,727.7 334.5,730.9 342.5,729.2 350.5,722.4 358.5,721.0 366.5,721.3 374.5,722.3 382.5,718.6 390.5,709.6 398.5,704.2 406.5,697.9 414.5,701.4 422.5,700.0 430.5,694.6 438.5,694.3 446.5,696.2 454.5,700.5 462.5,700.0 470.5,699.7 478.5,702.4 486.5,710.6 494.5,706.5 502.5,714.7 510.5,718.8 518.5,716.4 526.5,711.2 534.5,709.9 542.5,728.2 550.5,735.9 558.5,740.9 566.5,751.0 574.5,741.5 582.5,742.7 590.5,737.7 598.5,735.2 606.5,736.0 614.5,741.3 622.5,734.6 630.5,739.0 638.5,750.3 646.5,752.6 654.5,750.9 662.5,745.3 670.5,737.4 678.5,734.4 686.5,737.7 694.5,749.1 702.5,750.5 710.5,759.5 718.5,759.6 726.5,755.4 734.5,758.7 742.5,763.6 750.5,754.9 758.5,755.9 766.5,748.1 774.5,742.3 782.5,744.6 790.5,733.4 798.5,733.7 806.5,734.3 814.5,730.0 822.5,743.9 830.5,757.0 838.5,760.4 846.5,761.5 854.5,764.1 862.5,758.2 870.5,753.1 878.5,754.0 886.5,755.2 894.5,746.5 902.5,733.9 910.5,736.8 918.5,736.1 926.5,737.5 934.5,726.6 942.5,727.5 950.5,723.9 958.5,724.7 966.5,734.0 974.5,730.1 982.5,739.5 990.5,739.5 998.5,739.1 1006.5,732.7 1014.5,734.9 1022.5,741.5 1030.5,741.5 1038.5,740.6 1046.5,741.2 1054.5,735.3 1062.5,736.7 1070.5,724.6 1078.5,720.1 1086.5,721.7 1094.5,725.5 1102.5,729.1 1110.5,721.9 1118.5,717.9" fill="none" stroke="#1E90FF" stroke-width="1"/></g></svg><svg x="0" y="0" width="1462" height="840" shape-rendering="crispEdges"><rect x="5" y="21" width="1417" height="1" fill="#000"/><rect x="5" y="560" width="1417" height="1" fill="#000"/><rect x="5" y="21" width="1" height="540" fill="#000"/><rect x="1421" y="21" width="1" height="540" fill="#000"/><rect x="5" y="562" width="1417" height="1" fill="#000"/><rect x="5" y="665" width="1417" height="1" fill="#000"/><rect x="5" y="562" width="1" height="104" fill="#000"/><rect x="1421" y="562" width="1" height="104" fill="#000"/><rect x="5" y="667" width="1417" height="1" fill="#000"/><rect x="5" y="797" width="1417" height="1" fill="#000"/><rect x="5" y="667" width="1" height="131" fill="#000"/><rect x="1421" y="667" width="1" height="131" fill="#000"/><rect x="1422" y="29" width="2" height="1" fill="#000"/><rect x="1422" y="62" width="2" height="1" fill="#000"/><rect x="1422" y="95" width="2" height="1" fill="#000"/><rect x="1422" y="128" width="2" height="1" fill="#000"/><rect x="1422" y="161" width="2" height="1" fill="#000"/><rect x="1422" y="194" width="2" height="1" fill="#000"/><rect x="1422" y="227" width="2" height="1" fill="#000"/><rect x="1422" y="260" width="2" height="1" fill="#000"/><rect x="1422" y="293" width="2" height="1" fill="#000"/><rect x="1422" y="326" width="2" height="1" fill="#000"/><rect x="1422" y="359" width="2" height="1" fill="#000"/><rect x="1422" y="392" width="2" height="1" fill="#000"/><rect x="1422" y="425" width="2" height="1" fill="#000"/><rect x="1422" y="458" width="2" height="1" fill="#000"/><rect x="1422" y="491" width="2" height="1" fill="#000"/><rect x="1422" y="524" width="2" height="1" fill="#000"/><rect x="1422" y="557" width="2" height="1" fill="#000"/><rect x="1422" y="564" width="2" height="1" fill="#000"/><rect x="1422" y="609" width="2" height="1" fill="#000"/><rect x="1422" y="664" width="2" height="1" fill="#000"/><rect x="1422" y="669" width="2" height="1" fill="#000"/><rect x="1422" y="796" width="2" height="1" fill="#000"/><rect x="6" y="798" width="1" height="3" fill="#000"/><rect x="70" y="798" width="1" height="3" fill="#000"/><rect x="134" y="798" width="1" height="3" fill="#000"/><rect x="198" y="798" width="1" height="3" fill="#000"/><rect x="262" y="798" width="1" height="3" fill="#000"/><rect x="326" y="798" width="1" height="3" fill="#000"/><rect x="390" y="798" width="1" height="3" fill="#000"/><rect x="454" y="798" width="1" height="3" fill="#000"/><rect x="518" y="798" width="1" height="3" fill="#000"/><rect x="582" y="798" width="1" height="3" fill="#000"/><rect x="646" y="798" width="1" height="3" fill="#000"/><rect x="710" y="798" width="1" height="3" fill="#000"/><rect x="774" y="798" width="1" height="3" fill="#000"/><rect x="838" y="798" width="1" height="3" fill="#000"/><rect x="902" y="798" width="1" height="3" fill="#000"/><rect x="966" y="798" width="1" height="3" fill="#000"/><rect x="1030" y="798" width="1" height="3" fill="#000"/><rect x="1094" y="798" width="1" height="3" fill="#000"/></svg>
<div class="ax" style="left:1427px;top:24.5px;">1.02570</div><div class="ax" style="left:1427px;top:57.5px;">1.02210</div><div class="ax" style="left:1427px;top:90.5px;">1.01850</div><div class="ax" style="left:1427px;top:123.5px;">1.01490</div><div class="ax" style="left:1427px;top:156.5px;">1.01130</div><div class="ax" style="left:1427px;top:189.5px;">1.00770</div><div class="ax" style="left:1427px;top:222.5px;">1.00410</div><div class="ax" style="left:1427px;top:255.5px;">1.00050</div><div class="ax" style="left:1427px;top:288.5px;">0.99690</div><div class="ax" style="left:1427px;top:321.5px;">0.99330</div><div class="ax" style="left:1427px;top:354.5px;">0.98970</div><div class="ax" style="left:1427px;top:387.5px;">0.98610</div><div class="ax" style="left:1427px;top:420.5px;">0.98250</div><div class="ax" style="left:1427px;top:453.5px;">0.97900</div><div class="ax" style="left:1427px;top:486.5px;">0.97540</div><div class="ax" style="left:1427px;top:519.5px;">0.97180</div><div class="ax" style="left:1427px;top:552.5px;">0.96820</div><div class="ax" style="left:1425px;top:565.5px;">0.00613</div><div class="ax" style="left:1425px;top:604.5px;">0.00</div><div class="ax" style="left:1424px;top:653.5px;letter-spacing:0px">-0.00761</div><div class="ax" style="left:1425px;top:669.5px;">100</div><div class="ax" style="left:1424px;top:702.5px;">70</div><div class="ax" style="left:1424px;top:753.5px;">30</div><div class="ax" style="left:1425px;top:785.5px;">0</div><div class="dt" style="left:5px;top:801.5px;">19 Feb 2019</div><div class="dt" style="left:69px;top:801.5px;">28 Feb 2019</div><div class="dt" style="left:133px;top:801.5px;">10 Mar 2019</div><div class="dt" style="left:197px;top:801.5px;">19 Mar 2019</div><div class="dt" style="left:261px;top:801.5px;">28 Mar 2019</div><div class="dt" style="left:325px;top:801.5px;">7 Apr 2019</div><div class="dt" style="left:389px;top:801.5px;">16 Apr 2019</div><div class="dt" style="left:453px;top:801.5px;">26 Apr 2019</div><div class="dt" style="left:517px;top:801.5px;">6 May 2019</div><div class="dt" style="left:581px;top:801.5px;">15 May 2019</div><div class="dt" style="left:645px;top:801.5px;">24 May 2019</div><div class="dt" style="left:709px;top:801.5px;">3 Jun 2019</div><div class="dt" style="left:773px;top:801.5px;">12 Jun 2019</div><div class="dt" style="left:837px;top:801.5px;">21 Jun 2019</div><div class="dt" style="left:901px;top:801.5px;">1 Jul 2019</div><div class="dt" style="left:965px;top:801.5px;">10 Jul 2019</div><div class="dt" style="left:1029px;top:801.5px;">19 Jul 2019</div><div class="dt" style="left:1093px;top:801.5px;">29 Jul 2019</div>
<div class="box" style="top:148px;background:#FF0000;color:#fff">1.01205</div><div class="box" style="top:249px;background:#FF0000;color:#fff">1.00106</div><div class="box" style="top:291px;background:#000;color:#fff">0.99657</div><div class="box" style="top:313px;background:#00FF00;color:#fff">0.99406</div><div class="box" style="top:442px;background:#0000FF;color:#fff">0.98004</div><div class="box" style="top:534px;background:#0000FF;color:#fff">0.97001</div>
<svg width="10" height="6" style="left:9px;top:28px;position:absolute"><polygon points="0,0 7,0 3.5,4" fill="#000"/></svg>
<div class="title" style="left:21px;top:25.7px;letter-spacing:-0.1px">USDCHF-,Daily</div>
<div class="title" style="left:95px;top:25.7px;letter-spacing:-0.35px">0.99404 0.99738 0.99402 0.99657</div>
<div class="title" style="left:10px;top:567.3px">MACD(12,26,9) 0.001613 0.000143</div>
<div class="title" style="left:10px;top:672.3px">RSI(14) 61.7453</div>
<div id="bl"></div>
<div id="tabs">
<div id="tabs2"></div>
<div id="act"></div>
<div class="tab" style="left:19px">EURUSD-,Daily</div>
<div class="tsep" style="left:115px"></div>
<div class="tab" style="left:125px">AUDUSD-,Daily</div>
<div class="tab" style="left:235px;color:#000">USDCHF-,Daily</div>
<div class="tab" style="left:342px">USDCAD-,Daily</div>
<div class="tsep" style="left:439px"></div>
<div class="tab" style="left:451.5px">USDCNH-,Daily</div>
<div class="tsep" style="left:551px"></div>
<div class="tab" style="left:562.5px">EURCHF-,Weekly</div>
<div class="tsep" style="left:672px"></div>
<div class="tab" style="left:683px">XAUUSD-,Weekly</div>
<div class="tsep" style="left:795px"></div>
<div class="tab" style="left:806px">GBPUSD-,H1</div>
<div class="tsep" style="left:891px"></div>
<div class="tab" style="left:902px">UKOil-,H1</div>
<div class="tsep" style="left:971px"></div>
<div class="tab" style="left:981.5px">USDX-,Weekly</div>
<div class="tsep" style="left:1076px"></div>
</div>
<div id="lb2"></div>
<svg width="1462" height="840" style="position:absolute;left:0;top:0"><polygon points="1440,825.5 1440,832.5 1436.5,829" fill="#9a9a9a"/><polygon points="1456,825.5 1456,832.5 1459.5,829" fill="#9a9a9a"/><polygon points="1132,22 1141,22 1136.5,26.5" fill="#C0C0C0"/></svg>
</body></html>
